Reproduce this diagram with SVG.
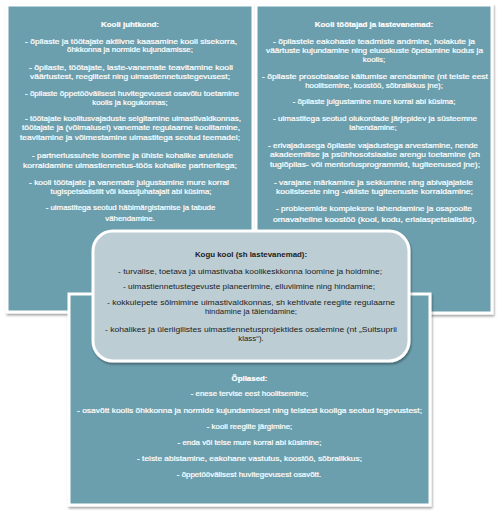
<svg xmlns="http://www.w3.org/2000/svg" width="500" height="524" viewBox="0 0 500 524">
<defs>
<filter id="sh" x="-5%" y="-5%" width="110%" height="110%">
<feDropShadow dx="1" dy="2" stdDeviation="1.3" flood-color="#000" flood-opacity="0.35"/>
</filter>
<style>
.box{fill:#6c9fae;stroke:#fff;stroke-width:3;filter:url(#sh)}
.mid{fill:#bccdd4;stroke:#fff;stroke-width:3;filter:url(#sh)}
text{font-family:"Liberation Sans",Arial,sans-serif;font-size:7.9px;text-anchor:middle}
.w{fill:#fff;stroke:#fff;stroke-width:0.2}
.d{fill:#1c1c1c}
.h{font-weight:bold}
</style>
</defs>
<rect width="500" height="524" fill="#fff"/>
<g id="juhtkond">
<rect class="box" x="7" y="5" width="246" height="307"/>
<g class="w">
<text class="h" x="130" y="27">Kooli juhtkond:</text>
<text x="131" y="43.5" textLength="212" lengthAdjust="spacingAndGlyphs">- õpilaste ja töötajate aktiivne  kaasamine kooli sisekorra,</text>
<text x="130" y="52">õhkkonna ja normide kujundamisse;</text>
<text x="131" y="69.5" textLength="204" lengthAdjust="spacingAndGlyphs">- õpilaste, töötajate, laste-vanemate teavitamine kooli</text>
<text x="130" y="78.5" textLength="200" lengthAdjust="spacingAndGlyphs">väärtustest, reeglitest ning uimastiennetustegevusest;</text>
<text x="132" y="95.5" textLength="214" lengthAdjust="spacingAndGlyphs">- õpilaste õppetöövälisest  huvitegevusest osavõtu toetamine</text>
<text x="130" y="104.5">koolis ja kogukonnas;</text>
<text x="133" y="121" textLength="216" lengthAdjust="spacingAndGlyphs">- töötajate koolitusvajaduste selgitamine uimastivaldkonnas,</text>
<text x="131" y="130" textLength="218" lengthAdjust="spacingAndGlyphs">töötajate ja (võimalusel) vanemate regulaarne koolitamine,</text>
<text x="130" y="140" textLength="220" lengthAdjust="spacingAndGlyphs">teavitamine ja võimestamine uimastitega seotud teemadel;</text>
<text x="132.5" y="157.5" textLength="201" lengthAdjust="spacingAndGlyphs">- partnerlussuhete  loomine ja ühiste kohalike  arutelude</text>
<text x="130" y="167.5" textLength="214" lengthAdjust="spacingAndGlyphs">korraldamine uimastiennetus-töös kohalike  partneritega;</text>
<text x="129" y="184.5" textLength="200" lengthAdjust="spacingAndGlyphs">- kooli töötajate  ja vanemate julgustamine mure korral</text>
<text x="131" y="193.5">tugispetsialistilt või klassijuhatajalt abi küsima;</text>
<text x="130.5" y="210">- uimastitega seotud häbimärgistamise ja tabude</text>
<text x="130" y="220.5">vähendamine.</text>
</g>
</g>
<g id="tootajad">
<rect class="box" x="256" y="5" width="236" height="308"/>
<g class="w">
<text class="h" x="374" y="27">Kooli töötajad ja lastevanemad:</text>
<text x="374" y="43.5" textLength="202" lengthAdjust="spacingAndGlyphs">- õpilastele eakohaste teadmiste andmine, hoiakute ja</text>
<text x="374.5" y="52.5" textLength="217" lengthAdjust="spacingAndGlyphs">väärtuste kujundamine ning eluoskuste õpetamine kodus ja</text>
<text x="374" y="62">koolis;</text>
<text x="375" y="78.5" textLength="226" lengthAdjust="spacingAndGlyphs">- õpilaste prosotsiaalse käitumise arendamine (nt teiste eest</text>
<text x="374" y="87.5">hoolitsemine, koostöö,  sõbralikkus jne);</text>
<text x="374" y="104">- õpilaste julgustamine mure korral abi küsima;</text>
<text x="375" y="121" textLength="204" lengthAdjust="spacingAndGlyphs">- uimastitega seotud olukordade  järjepidev ja süsteemne</text>
<text x="373" y="130">lahendamine;</text>
<text x="373" y="147.5" textLength="210" lengthAdjust="spacingAndGlyphs">- erivajadusega õpilaste vajadustega arvestamine, nende</text>
<text x="375" y="157" textLength="210" lengthAdjust="spacingAndGlyphs">akadeemilise ja psühhosotsiaalse arengu toetamine (sh</text>
<text x="375" y="167" textLength="210" lengthAdjust="spacingAndGlyphs">tugiõpilas- või mentorlusprogrammid, tugiteenused jne);</text>
<text x="373.5" y="184.5" textLength="199" lengthAdjust="spacingAndGlyphs">- varajane märkamine ja sekkumine  ning abivajajatele</text>
<text x="374.5" y="193.5" textLength="197" lengthAdjust="spacingAndGlyphs">koolisiseste ning -väliste tugiteenuste korraldamine;</text>
<text x="374" y="211" textLength="196" lengthAdjust="spacingAndGlyphs">- probleemide kompleksne lahendamine ja osapoolte</text>
<text x="375" y="221.5" textLength="204" lengthAdjust="spacingAndGlyphs">omavaheline koostöö  (kool, kodu,  erialaspetsialistid).</text>
</g>
</g>
<g id="opilased">
<rect class="box" x="69" y="294" width="361" height="211"/>
<g class="w">
<text class="h" x="249.5" y="380.5">Õpilased:</text>
<text x="249.5" y="396">- enese tervise eest hoolitsemine;</text>
<text x="249.5" y="412.5" textLength="345" lengthAdjust="spacingAndGlyphs">- osavõtt koolis õhkkonna  ja normide kujundamisest ning teistest kooliga seotud tegevustest;</text>
<text x="249.5" y="429">- kooli reeglite järgimine;</text>
<text x="249.5" y="445">- enda või  teise mure korral abi küsimine;</text>
<text x="249.5" y="461" textLength="225" lengthAdjust="spacingAndGlyphs">- teiste abistamine, eakohane vastutus, koostöö,  sõbralikkus;</text>
<text x="249" y="477">- õppetöövälisest huvitegevusest osavõtt.</text>
</g>
</g>
<g id="kogu-kool">
<rect class="mid" x="93" y="231" width="316" height="130" rx="20" ry="20"/>
<g class="d">
<text class="h" x="251" y="257">Kogu kool (sh lastevanemad):</text>
<text x="250" y="273.5" textLength="264" lengthAdjust="spacingAndGlyphs">- turvalise, toetava ja uimastivaba koolikeskkonna  loomine ja hoidmine;</text>
<text x="249" y="289" textLength="252" lengthAdjust="spacingAndGlyphs">- uimastiennetustegevuste planeerimine,  elluviimine ning hindamine;</text>
<text x="251" y="305" textLength="288" lengthAdjust="spacingAndGlyphs">- kokkulepete  sõlmimine uimastivaldkonnas, sh kehtivate reeglite regulaarne</text>
<text x="251" y="314">hindamine ja täiendamine;</text>
<text x="251" y="331.5" textLength="292" lengthAdjust="spacingAndGlyphs">- kohalikes ja üleriigilistes uimastiennetusprojektides osalemine (nt „Suitsuprii</text>
<text x="251" y="341">klass“).</text>
</g>
</g>
</svg>
